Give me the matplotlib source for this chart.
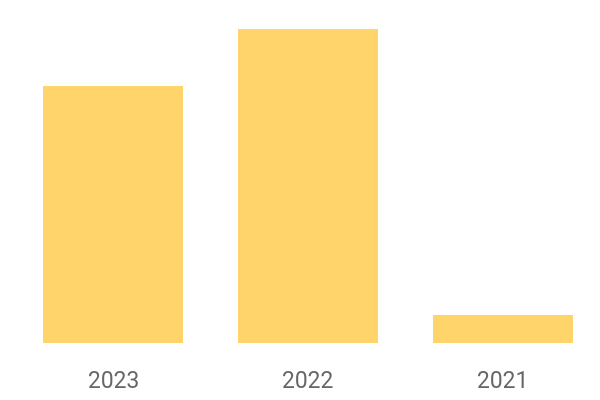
import matplotlib
matplotlib.use("Agg")
import matplotlib.pyplot as plt

# data
years = ["2023", "2022", "2021"]
values = [82, 100, 9]

bar_color = "#FFD56B"
label_color = "#666666"

fig = plt.figure(figsize=(6, 4), dpi=100)
# axes placed in pixel terms: left 16px, right 599px, baseline 343px, top 29px
ax = fig.add_axes([16 / 600, 57 / 400, 584 / 600, 314 / 400])

ax.bar(range(len(years)), values, width=0.72, color=bar_color)
ax.set_xlim(-0.5, len(years) - 0.5)
ax.set_ylim(0, 100)

ax.set_xticks(range(len(years)))
ax.set_xticklabels(years, fontfamily="Roboto", fontsize=16.5, color=label_color)
ax.tick_params(axis="x", length=0, pad=19.5)
ax.set_yticks([])
for s in ax.spines.values():
    s.set_visible(False)

fig.savefig("out.png", dpi=100)
